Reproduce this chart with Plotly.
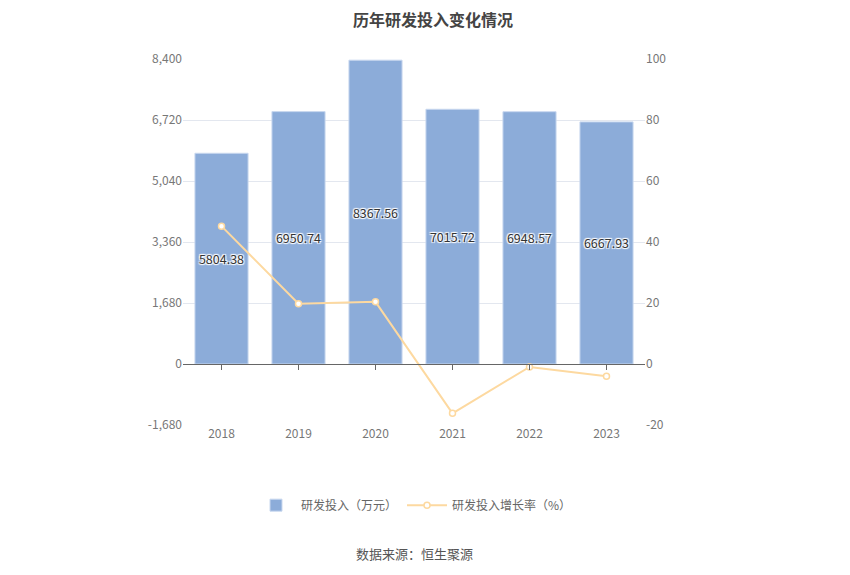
import plotly.graph_objects as go

years = ["2018", "2019", "2020", "2021", "2022", "2023"]
rd_invest = [5804.38, 6950.74, 8367.56, 7015.72, 6948.57, 6667.93]
growth = [45.2, 19.75, 20.38, -16.16, -0.96, -4.04]
left_ticks = [-1680, 0, 1680, 3360, 5040, 6720, 8400]
left_ticktext = ["-1,680", "0", "1,680", "3,360", "5,040", "6,720", "8,400"]
right_ticks = [-20, 0, 20, 40, 60, 80, 100]
right_ticktext = ["-20", "0", "20", "40", "60", "80", "100"]

FONT = "Noto Sans CJK SC"
fig = go.Figure()
fig.add_trace(go.Bar(
    x=years, y=rd_invest, name="研发投入（万元）",
    marker=dict(color="#8cacd9", line=dict(color="#c9d8ef", width=1)),
    text=[f"{v:.2f}" for v in rd_invest], textposition="inside",
    insidetextanchor="middle", constraintext="none",
    textfont=dict(color="#333333", size=12.5, family=FONT,
                  shadow="1px 1px 1px #fff, -1px -1px 1px #fff, 1px -1px 1px #fff, -1px 1px 1px #fff"),
    hoverinfo="skip",
))
fig.add_trace(go.Scatter(
    x=years, y=growth, name="研发投入增长率（%）", yaxis="y2", mode="lines+markers",
    line=dict(color="#fdd9a0", width=2),
    marker=dict(symbol="circle", size=6, color="white", line=dict(color="#fdd9a0", width=1.5)),
))
fig.add_trace(go.Scatter(x=years, y=rd_invest, xaxis="x2", mode="none",
                         showlegend=False, hoverinfo="skip"))

fig.update_layout(
    width=850, height=575,
    margin=dict(l=175, r=213, t=51, b=158),
    paper_bgcolor="white", plot_bgcolor="white",
    font=dict(family=FONT, color="#666666", size=12),
    title=dict(text="<b>历年研发投入变化情况</b>", x=0.5, xanchor="center", y=0.978, yanchor="middle",
               font=dict(size=16, color="#444444", family=FONT)),
    bargap=0.31,
    xaxis=dict(type="category", showgrid=False, showline=False, ticks="",
               tickfont=dict(color="#777777", size=12), range=[-0.5, 5.5]),
    xaxis2=dict(type="category", overlaying="x", anchor="free", position=1/6, range=[-0.5, 5.5],
                showticklabels=False, ticks="outside", ticklen=5, tickcolor="#666666",
                showline=True, linecolor="#666666", linewidth=1, showgrid=False),
    yaxis=dict(range=[-1680, 8400], tickvals=left_ticks, ticktext=left_ticktext,
               showgrid=True, gridcolor="#e3e7ef", zeroline=False, showline=False,
               tickfont=dict(color="#777777", size=12), ticks=""),
    yaxis2=dict(range=[-20, 100], tickvals=right_ticks, ticktext=right_ticktext, overlaying="y",
                side="right", showgrid=False, zeroline=False, showline=False,
                tickfont=dict(color="#777777", size=12), ticks=""),
    legend=dict(orientation="h", x=0.5, xanchor="center", y=-0.219, yanchor="middle",
                font=dict(color="#666666", size=12), itemwidth=40),
    annotations=[dict(text="数据来源：恒生聚源", x=0.5, xref="paper", y=-0.35, yref="paper",
                      yanchor="middle", showarrow=False,
                      font=dict(size=13, color="#555555", family=FONT))],
)
fig.write_html("out.html")
